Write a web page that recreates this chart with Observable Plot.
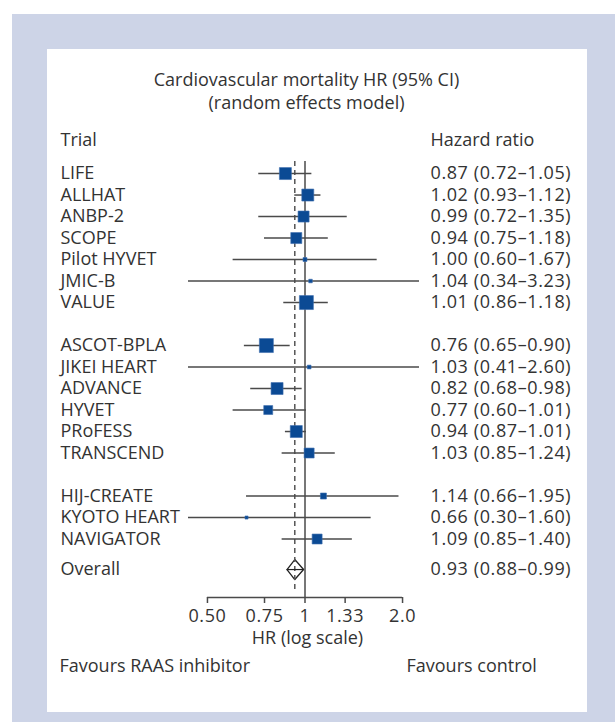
<!DOCTYPE html>
<html>
<head>
<meta charset="utf-8">
<script src="https://cdn.jsdelivr.net/npm/d3@7"></script>
<script src="https://cdn.jsdelivr.net/npm/@observablehq/plot@0.6"></script>
<style>
  html, body { margin: 0; padding: 0; background: #ffffff; }
  #page { position: relative; width: 615px; height: 722px; overflow: hidden; }
  #panel { position: absolute; left: 12px; top: 14px; right: 0; bottom: 0; background: #cdd4e7; }
  #box { position: absolute; left: 47px; top: 49px; width: 540px; height: 663px; background: #ffffff; }
  #box svg { display: block; }
</style>
</head>
<body>
<div id="page"><div id="panel"></div><div id="box"></div></div>
<script>
// ---- data ----
const trials = ["LIFE", "ALLHAT", "ANBP-2", "SCOPE", "Pilot HYVET", "JMIC-B", "VALUE",
  "ASCOT-BPLA", "JIKEI HEART", "ADVANCE", "HYVET", "PRoFESS", "TRANSCEND",
  "HIJ-CREATE", "KYOTO HEART", "NAVIGATOR"];
const groups = [1, 1, 1, 1, 1, 1, 1, 2, 2, 2, 2, 2, 2, 3, 3, 3];
const hr = [0.87, 1.02, 0.99, 0.94, 1.00, 1.04, 1.01, 0.76, 1.03, 0.82, 0.77, 0.94, 1.03, 1.14, 0.66, 1.09];
const lo = [0.72, 0.93, 0.72, 0.75, 0.60, 0.34, 0.86, 0.65, 0.41, 0.68, 0.60, 0.87, 0.85, 0.66, 0.30, 0.85];
const hi = [1.05, 1.12, 1.35, 1.18, 1.67, 3.23, 1.18, 0.90, 2.60, 0.98, 1.01, 1.01, 1.24, 1.95, 1.60, 1.40];
const weights = [9.1, 9.1, 7.7, 7.7, 1.0, 0.8, 12.4, 12.4, 0.9, 9.1, 5.1, 9.1, 6.3, 2.3, 0.6, 6.3];
const overall = {label: "Overall", hr: 0.93, lo: 0.88, hi: 0.99};
const tickValues = [0.5, 0.75, 1, 1.33, 2];
const tickLabels = ["0.50", "0.75", "1", "1.33", "2.0"];
const titleLines = ["Cardiovascular mortality HR (95% CI)", "(random effects model)"];
const headers = {left: "Trial", right: "Hazard ratio"};
const axisTitle = "HR (log scale)";
const favours = {left: "Favours RAAS inhibitor", right: "Favours control"};

// ---- derived table ----
const fmt = v => v.toFixed(2);
const ciText = (h, l, u) => `${fmt(h)} (${fmt(l)}–${fmt(u)})`;
const rows = trials.map((name, i) => ({
  name, hr: hr[i], lo: lo[i], hi: hi[i], w: weights[i],
  row: i + (groups[i] - 1),
  ci: ciText(hr[i], lo[i], hi[i])
}));
const lastRow = rows[rows.length - 1].row;
const overallRow = lastRow + 1.42;
const rowTop = -0.56;
const axisRow = lastRow + 2.72;
const dh = 0.465;
const ov = {name: overall.label, hr: overall.hr, lo: overall.lo, hi: overall.hi,
  row: overallRow, ci: ciText(overall.hr, overall.lo, overall.hi)};
const diamond = [
  {x: ov.lo, y: ov.row}, {x: ov.hr, y: ov.row - dh},
  {x: ov.hi, y: ov.row}, {x: ov.hr, y: ov.row + dh}
];
const labelRows = [...rows, ov];

const txt = "#333333";
const lineCol = "#4a4a4a";
const blue = "#0b4a94";
const FS = 18;
const T = {fill: txt, fontSize: FS, lineAnchor: "middle"};

const chart = Plot.plot({
  width: 540,
  height: 663,
  marginLeft: 141,
  marginRight: 168,
  marginTop: 112,
  marginBottom: 115,
  x: {type: "log", domain: [0.437, 2.256], axis: null},
  y: {domain: [rowTop, axisRow], reverse: true, axis: null},
  r: {type: "sqrt", domain: [0, 12.4], range: [0, 7.9]},
  style: {fontFamily: "'Open Sans', 'Noto Sans', sans-serif", fontSize: FS + "px", color: txt, background: "transparent"},
  marks: [
    // reference line at HR = 1
    Plot.ruleX([1], {y1: () => rowTop, y2: () => axisRow, stroke: "#555", strokeWidth: 1.6}),
    // overall diamond
    Plot.line(diamond, {x: "x", y: "y", curve: "linear-closed", fill: "white", stroke: "#222", strokeWidth: 1.3}),
    // dashed line at overall estimate
    Plot.ruleX([ov.hr], {y1: () => rowTop, y2: () => axisRow - 0.3, stroke: "#555", strokeWidth: 1.5, strokeDasharray: "5,4"}),
    // confidence intervals
    Plot.ruleY(rows, {y: "row", x1: "lo", x2: "hi", stroke: lineCol, strokeWidth: 1.5, clip: true}),
    Plot.ruleY([ov], {y: "row", x1: "lo", x2: "hi", stroke: "#222", strokeWidth: 1.2}),
    // point estimates
    Plot.dot(rows, {x: "hr", y: "row", r: "w", symbol: "square", fill: blue, stroke: "#3f6fae", strokeWidth: 0.6}),
    // axis
    Plot.ruleY([axisRow], {x1: () => d3.min(tickValues), x2: () => d3.max(tickValues), stroke: lineCol, strokeWidth: 1.5}),
    Plot.ruleX(tickValues, {x: d => d, y1: () => axisRow, y2: () => axisRow + 0.28, stroke: lineCol, strokeWidth: 1.5}),
    Plot.text(tickValues, {...T, x: d => d, text: (d, i) => tickLabels[i], frameAnchor: "bottom", dy: 18.5}),
    Plot.text([axisTitle], {...T, frameAnchor: "bottom", dx: 3.5, dy: 40.5}),
    // trial labels and hazard ratios
    Plot.text(labelRows, {...T, y: "row", text: "name", frameAnchor: "left", textAnchor: "start", dx: -128}),
    Plot.text(labelRows, {...T, y: "row", text: "ci", frameAnchor: "right", textAnchor: "start", dx: 11}),
    // headers and title
    Plot.text([headers.left], {...T, frameAnchor: "top-left", textAnchor: "start", dx: -128, dy: -21}),
    Plot.text([headers.right], {...T, frameAnchor: "top-right", textAnchor: "start", dx: 11, dy: -21}),
    Plot.text([titleLines[0]], {...T, frameAnchor: "top", dx: 2.5, dy: -81}),
    Plot.text([titleLines[1]], {...T, frameAnchor: "top", dx: 2.5, dy: -58.5}),
    // favours
    Plot.text([favours.left], {...T, frameAnchor: "bottom-left", textAnchor: "start", dx: -129, dy: 69}),
    Plot.text([favours.right], {...T, frameAnchor: "bottom-right", textAnchor: "start", dx: -13, dy: 69})
  ]
});
// wider digit spacing as in the reference typeface
chart.querySelectorAll("text").forEach(t => {
  if (/^[0-9]/.test(t.textContent)) t.setAttribute("letter-spacing", "0.6");
});
document.getElementById("box").appendChild(chart);
</script>
</body>
</html>
